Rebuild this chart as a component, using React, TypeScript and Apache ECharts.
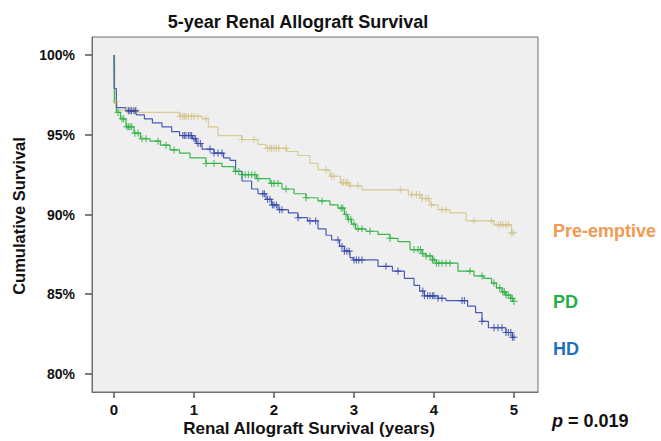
import React, { useEffect, useRef } from "react";
import * as echarts from "echarts";

// ---- Data ----
const X_TICKS = [0, 1, 2, 3, 4, 5];
const Y_TICKS = [80, 85, 90, 95, 100];

// Kaplan–Meier steps: [years, cumulative survival %]
const PRE_STEPS: number[][] = [
  [0, 100], [0.01, 97.1], [0.04, 96.55], [0.3, 96.4], [0.82, 96.15], [1.1, 96.0],
  [1.18, 95.5], [1.3, 94.95], [1.6, 94.7], [1.8, 94.4], [1.9, 94.15], [2.16, 93.95],
  [2.3, 93.7], [2.45, 93.2], [2.55, 92.8], [2.7, 92.4], [2.83, 92.0], [2.95, 91.8],
  [3.1, 91.55], [3.68, 91.25], [3.85, 91.0], [3.95, 90.6], [4.05, 90.3], [4.2, 90.1],
  [4.4, 89.6], [4.75, 89.35], [4.97, 88.85], [5.0, 88.85],
];
const PD_STEPS: number[][] = [
  [0, 100], [0.005, 97.0], [0.03, 96.4], [0.08, 96.0], [0.15, 95.5], [0.25, 95.1],
  [0.33, 94.75], [0.45, 94.6], [0.58, 94.35], [0.7, 94.05], [0.82, 93.85], [0.95, 93.55],
  [1.15, 93.2], [1.35, 93.0], [1.5, 92.7], [1.6, 92.5], [1.78, 92.25], [1.95, 91.95],
  [2.1, 91.6], [2.25, 91.3], [2.4, 91.05], [2.55, 90.85], [2.7, 90.6], [2.8, 90.4],
  [2.88, 90.0], [2.92, 89.7], [2.97, 89.4], [3.02, 89.1], [3.15, 88.95], [3.3, 88.75],
  [3.45, 88.5], [3.55, 88.3], [3.7, 87.8], [3.85, 87.55], [3.9, 87.4], [3.98, 87.15],
  [4.03, 86.95], [4.3, 86.45], [4.5, 86.15], [4.62, 86.0], [4.72, 85.7], [4.78, 85.4],
  [4.85, 85.15], [4.9, 84.95], [4.96, 84.75], [4.99, 84.55], [5.0, 84.55],
];
const HD_STEPS: number[][] = [
  [0, 100], [0.003, 97.9], [0.03, 96.7], [0.15, 96.5], [0.28, 96.25], [0.38, 96.0],
  [0.48, 95.75], [0.6, 95.5], [0.72, 95.2], [0.82, 94.95], [0.98, 94.75], [1.03, 94.45],
  [1.1, 94.1], [1.25, 93.85], [1.37, 93.55], [1.45, 93.4], [1.52, 92.7], [1.6, 92.1],
  [1.72, 91.6], [1.8, 91.3], [1.9, 90.95], [1.97, 90.6], [2.05, 90.3], [2.18, 90.1],
  [2.3, 89.8], [2.42, 89.6], [2.55, 89.1], [2.65, 88.7], [2.72, 88.4], [2.82, 88.0],
  [2.88, 87.7], [2.95, 87.3], [2.99, 87.15], [3.3, 86.75], [3.48, 86.45], [3.63, 86.0],
  [3.75, 85.55], [3.82, 85.2], [3.88, 84.9], [4.05, 84.75], [4.15, 84.6], [4.42, 84.25],
  [4.52, 83.85], [4.6, 83.3], [4.68, 82.9], [4.9, 82.6], [4.98, 82.3], [5.0, 82.3],
];

// Censoring times (years)
const PRE_CENSOR = [
  0.02, 0.16, 0.2, 0.24, 0.28, 0.83, 0.86, 0.88, 0.9, 0.93, 0.97, 1.0, 1.05, 1.15,
  1.6, 1.75, 1.92, 1.95, 1.97, 2.0, 2.03, 2.06, 2.15, 2.65, 2.72, 2.75, 2.85, 2.87,
  2.9, 2.92, 2.95, 3.05, 3.58, 3.72, 3.78, 3.82, 3.85, 3.9, 3.93, 3.97, 4.1, 4.15,
  4.5, 4.72, 4.8, 4.83, 4.86, 4.9, 4.93, 4.97, 4.99,
];
const PD_CENSOR = [
  0.05, 0.1, 0.12, 0.16, 0.18, 0.2, 0.22, 0.26, 0.3, 0.35, 0.4, 0.55, 0.65, 0.75,
  1.15, 1.25, 1.52, 1.56, 1.6, 1.64, 1.68, 1.72, 1.76, 1.8, 1.97, 2.0, 2.05, 2.15,
  2.4, 2.6, 2.84, 2.86, 2.9, 2.93, 2.96, 3.0, 3.05, 3.1, 3.2, 3.45, 3.75, 3.8, 3.83,
  3.86, 3.9, 3.95, 3.98, 4.0, 4.03, 4.06, 4.1, 4.15, 4.2, 4.45, 4.6, 4.75, 4.82,
  4.86, 4.88, 4.9, 4.93, 4.96, 4.98, 5.0,
];
const HD_CENSOR = [
  0.18, 0.2, 0.22, 0.25, 0.27, 0.86, 0.88, 0.9, 0.93, 0.95, 0.97, 1.0, 1.02, 1.05,
  1.08, 1.2, 1.25, 1.3, 1.35, 1.86, 1.88, 1.92, 1.95, 1.98, 2.0, 2.03, 2.07, 2.1,
  2.3, 2.45, 2.52, 2.8, 2.85, 2.88, 2.91, 2.94, 3.0, 3.03, 3.06, 3.1, 3.4, 3.55,
  3.86, 3.88, 3.92, 3.95, 3.98, 4.0, 4.05, 4.1, 4.35, 4.38, 4.6, 4.75, 4.8, 4.85,
  4.9, 4.93, 4.96, 4.98, 5.0,
];

function onCurve(steps: number[][], times: number[]): number[][] {
  return times.map((t) => {
    let v = steps[0][1];
    for (const [st, sv] of steps) {
      if (st <= t) v = sv;
      else break;
    }
    return [t, v];
  });
}

const FONT = "'Liberation Sans', Arial, sans-serif";
const PLUS = "path://M0,4.2H10V5.8H0Z M4.2,0H5.8V10H4.2Z";

export default function App() {
  const ref = useRef<HTMLDivElement>(null);
  useEffect(() => {
    document.body.style.margin = "0";
    const chart = echarts.init(ref.current!, null, { renderer: "svg" });
    const groups = [
      { name: "Pre-emptive", steps: PRE_STEPS, cens: PRE_CENSOR, line: "#d6cc95", mark: "#cfc389" },
      { name: "PD", steps: PD_STEPS, cens: PD_CENSOR, line: "#3cb64e", mark: "#2fb046" },
      { name: "HD", steps: HD_STEPS, cens: HD_CENSOR, line: "#4a5cb8", mark: "#3446a8" },
    ];
    const series: any[] = [];
    groups.forEach((g) => {
      series.push({
        type: "line",
        name: g.name,
        step: "end",
        data: g.steps,
        showSymbol: false,
        lineStyle: { color: g.line, width: 1.2 },
        z: 2,
      });
      series.push({
        type: "scatter",
        name: g.name + " censored",
        data: onCurve(g.steps, g.cens),
        symbol: PLUS,
        symbolSize: 7,
        itemStyle: { color: g.mark },
        z: 3,
      });
    });
    chart.setOption({
      animation: false,
      grid: {
        left: 92,
        top: 37,
        width: 446,
        height: 355,
        show: true,
        backgroundColor: "#efefef",
        borderColor: "#6f6f6f",
        borderWidth: 1,
      },
      xAxis: {
        type: "value",
        min: -0.275,
        max: 5.3,
        splitLine: { show: false },
        axisLine: { show: true, onZero: false, lineStyle: { color: "#6f6f6f", width: 1 } },
        axisTick: { show: true, length: 6, customValues: X_TICKS, lineStyle: { color: "#555", width: 1.5 } },
        axisLabel: {
          customValues: X_TICKS,
          margin: 10,
          color: "#111",
          fontFamily: FONT,
          fontWeight: "bold",
          fontSize: 15,
        },
      },
      yAxis: {
        type: "value",
        min: 78.87,
        max: 101.13,
        splitLine: { show: false },
        axisLine: { show: true, onZero: false, lineStyle: { color: "#6f6f6f", width: 1 } },
        axisTick: { show: true, length: 7, customValues: Y_TICKS, lineStyle: { color: "#555", width: 1.5 } },
        axisLabel: {
          customValues: Y_TICKS,
          margin: 17,
          color: "#111",
          fontFamily: FONT,
          fontWeight: "bold",
          fontSize: 14,
          formatter: (v: number) => v + "%",
        },
      },
      series,
      graphic: [
        {
          type: "text",
          x: 298,
          y: 22,
          style: {
            text: "5-year Renal Allograft Survival",
            font: `bold 18px ${FONT}`,
            fill: "#111",
            align: "center",
            verticalAlign: "middle",
          },
        },
        {
          type: "text",
          x: 309,
          y: 428,
          style: {
            text: "Renal Allograft Survival (years)",
            font: `bold 17px ${FONT}`,
            fill: "#111",
            align: "center",
            verticalAlign: "middle",
          },
        },
        {
          type: "text",
          x: 19,
          y: 216,
          rotation: Math.PI / 2,
          style: {
            text: "Cumulative Survival",
            font: `bold 16.5px ${FONT}`,
            fill: "#111",
            align: "center",
            verticalAlign: "middle",
          },
        },
        {
          type: "text",
          x: 553,
          y: 231,
          style: {
            text: "Pre-emptive",
            font: `bold 18px ${FONT}`,
            fill: "#f29a52",
            align: "left",
            verticalAlign: "middle",
          },
        },
        {
          type: "text",
          x: 553,
          y: 302,
          style: {
            text: "PD",
            font: `bold 18px ${FONT}`,
            fill: "#22ad4a",
            align: "left",
            verticalAlign: "middle",
          },
        },
        {
          type: "text",
          x: 553,
          y: 349,
          style: {
            text: "HD",
            font: `bold 18px ${FONT}`,
            fill: "#1d6fc2",
            align: "left",
            verticalAlign: "middle",
          },
        },
        {
          type: "text",
          x: 552,
          y: 421,
          style: {
            text: "{i|p}{b| = 0.019}",
            align: "left",
            verticalAlign: "middle",
            rich: {
              i: { font: `italic bold 18px ${FONT}`, fill: "#111" },
              b: { font: `bold 18px ${FONT}`, fill: "#111" },
            },
          },
        },
      ],
    });
    return () => chart.dispose();
  }, []);
  return <div ref={ref} style={{ width: 661, height: 441 }} />;
}
